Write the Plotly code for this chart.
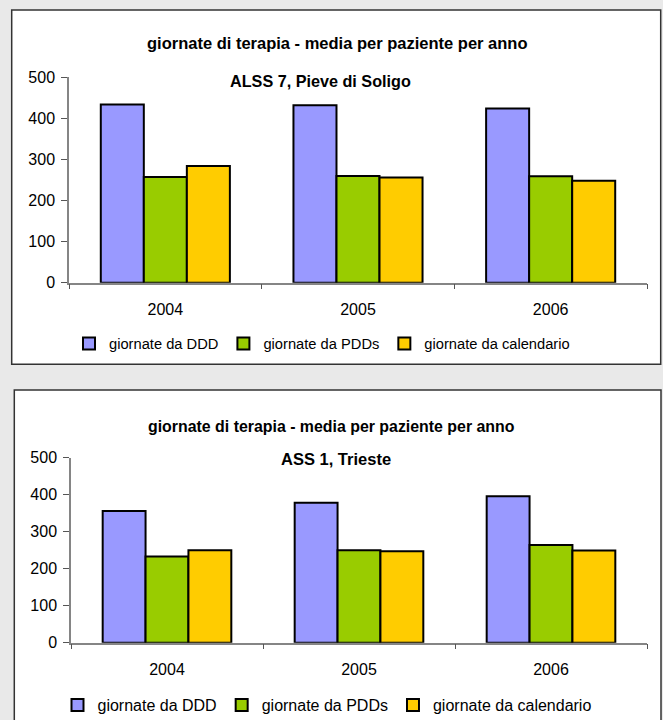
import plotly.graph_objects as go

years = ["2004", "2005", "2006"]
series_names = ["giornate da DDD", "giornate da PDDs", "giornate da calendario"]
colors = ["#9999FF", "#99CC00", "#FFCC00"]

# ALSS 7, Pieve di Soligo
soligo_ddd = [434, 432, 424]
soligo_pdd = [257, 260, 259]
soligo_cal = [284, 256, 248]

# ASS 1, Trieste
trieste_ddd = [356, 378, 396]
trieste_pdd = [233, 250, 264]
trieste_cal = [250, 247, 249]

main_title = "giornate di terapia - media per paziente per anno"
sub_top = "ALSS 7, Pieve di Soligo"
sub_bottom = "ASS 1, Trieste"
y_ticks = [0, 100, 200, 300, 400, 500]

W, H = 663, 720
def px(x): return x / W
def py(y): return 1 - y / H

FONT = "Liberation Sans"

fig = go.Figure()

for vals, name, col in zip([soligo_ddd, soligo_pdd, soligo_cal], series_names, colors):
    fig.add_trace(go.Bar(x=years, y=vals, name=name, marker=dict(color=col, line=dict(color="black", width=2)),
                         xaxis="x", yaxis="y", legend="legend"))
for vals, name, col in zip([trieste_ddd, trieste_pdd, trieste_cal], series_names, colors):
    fig.add_trace(go.Bar(x=years, y=vals, name=name, marker=dict(color=col, line=dict(color="black", width=2)),
                         xaxis="x2", yaxis="y2", legend="legend2"))

axis_common_x = dict(type="category", showline=True, linecolor="#858585", linewidth=1.5,
                     ticks="outside", tickson="boundaries", ticklen=5, tickcolor="#555", tickwidth=1,
                     showgrid=False, zeroline=False, ticklabelstandoff=11,
                     tickfont=dict(family=FONT, size=16, color="black"), fixedrange=True)
axis_common_y = dict(range=[0, 500], tickvals=y_ticks, showline=True, linecolor="#858585", linewidth=1.5,
                     ticks="outside", ticklen=6, tickcolor="#555", tickwidth=1, showgrid=False, zeroline=False,
                     ticklabelstandoff=3, tickfont=dict(family=FONT, size=16, color="black"), fixedrange=True)

fig.update_layout(
    width=W, height=H, margin=dict(l=0, r=0, t=0, b=0, autoexpand=False),
    paper_bgcolor="#e9e9e9", plot_bgcolor="white",
    barmode="group", bargap=0.33, bargroupgap=0,
    xaxis=dict(domain=[px(69), px(647)], anchor="y", **axis_common_x),
    yaxis=dict(domain=[py(282.7), py(77.3)], anchor="x", **axis_common_y),
    xaxis2=dict(domain=[px(71), px(647)], anchor="y2", **axis_common_x),
    yaxis2=dict(domain=[py(642.7), py(457.7)], anchor="x2", **axis_common_y),
    legend=dict(orientation="h", x=px(322), y=py(344), xanchor="center", yanchor="middle",
                font=dict(family=FONT, size=14.7, color="black"), bgcolor="rgba(0,0,0,0)", itemclick=False),
    legend2=dict(orientation="h", x=px(327), y=py(705), xanchor="center", yanchor="middle",
                 font=dict(family=FONT, size=16, color="black"), bgcolor="rgba(0,0,0,0)", itemclick=False),
    showlegend=True,
    shapes=[
        dict(type="rect", xref="paper", yref="paper", x0=px(11.7), x1=px(660.7), y0=py(364.3), y1=py(10),
             fillcolor="white", line=dict(color="#333", width=1.5), layer="below"),
        dict(type="rect", xref="paper", yref="paper", x0=px(14.3), x1=px(661), y0=py(730), y1=py(390),
             fillcolor="white", line=dict(color="#333", width=1.5), layer="below"),
    ],
    annotations=[
        dict(text="<b>" + main_title + "</b>", xref="paper", yref="paper", x=px(337), y=py(43),
             xanchor="center", yanchor="middle", showarrow=False, font=dict(family=FONT, size=16.5, color="black")),
        dict(text="<b>" + sub_top + "</b>", xref="paper", yref="paper", x=px(320.5), y=py(80.7),
             xanchor="center", yanchor="middle", showarrow=False, font=dict(family=FONT, size=16.2, color="black")),
        dict(text="<b>" + main_title + "</b>", xref="paper", yref="paper", x=px(331), y=py(426.7),
             xanchor="center", yanchor="middle", showarrow=False, font=dict(family=FONT, size=15.9, color="black")),
        dict(text="<b>" + sub_bottom + "</b>", xref="paper", yref="paper", x=px(335.6), y=py(459),
             xanchor="center", yanchor="middle", showarrow=False, font=dict(family=FONT, size=16.5, color="black")),
    ],
)

fig.write_html("out.html")
